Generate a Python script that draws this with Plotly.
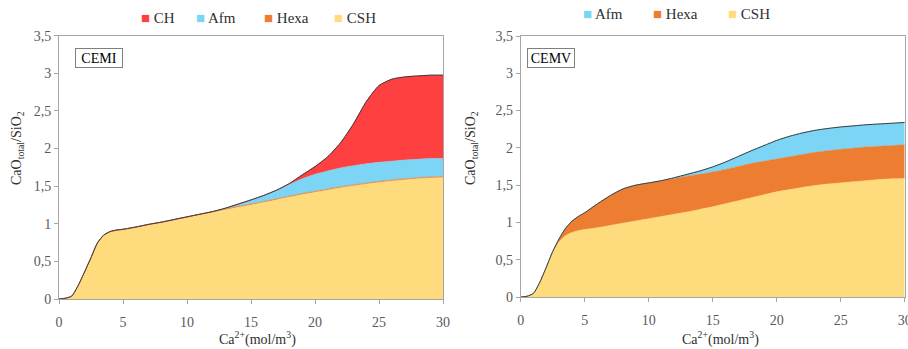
import plotly.graph_objects as go

# ---------------- data ----------------
x = [0, 0.5, 1, 1.5, 2, 2.5, 3, 3.5, 4, 4.5, 5, 6, 7, 8, 9, 10, 11, 12, 13, 14, 15,
     16, 17, 18, 19, 20, 21, 22, 23, 24, 25, 26, 27, 28, 29, 30]

# CEMI
csh_cemi = [0, 0.01, 0.04, 0.18, 0.36, 0.55, 0.74, 0.84, 0.885, 0.905, 0.915, 0.945, 0.98,
            1.01, 1.045, 1.08, 1.115, 1.15, 1.185, 1.22, 1.25, 1.285, 1.32, 1.355, 1.39,
            1.42, 1.45, 1.48, 1.505, 1.53, 1.55, 1.57, 1.585, 1.60, 1.61, 1.615]
hexa_cemi = [0, 0, 0, 0, 0, 0, 0.005, 0.01] + [0.012] * 28
afm_cemi = [0] * 18 + [0.01, 0.03, 0.055, 0.08, 0.115, 0.155, 0.195, 0.225, 0.24, 0.25,
                       0.255, 0.255, 0.255, 0.25, 0.25, 0.245, 0.245, 0.24]
ch_cemi = [0] * 23 + [0.013, 0.053, 0.103, 0.19, 0.335, 0.555, 0.825, 1.02, 1.09, 1.105,
                      1.108, 1.108, 1.108, 1.11]

# CEMV
csh_cemv = [0, 0.01, 0.05, 0.2, 0.4, 0.6, 0.74, 0.82, 0.865, 0.89, 0.905, 0.93, 0.96, 0.99,
            1.02, 1.05, 1.08, 1.11, 1.14, 1.175, 1.21, 1.25, 1.29, 1.33, 1.37, 1.41, 1.44,
            1.47, 1.495, 1.515, 1.53, 1.545, 1.56, 1.575, 1.585, 1.59]
hexa_cemv = [0, 0, 0, 0, 0, 0.01, 0.04, 0.1, 0.15, 0.19, 0.225, 0.32, 0.40, 0.46, 0.48,
             0.48, 0.48, 0.48, 0.48, 0.47, 0.465, 0.46, 0.46, 0.46, 0.45, 0.44, 0.44, 0.44,
             0.445, 0.445, 0.45, 0.45, 0.45, 0.445, 0.445, 0.45]
afm_cemv = [0] * 17 + [0.01, 0.025, 0.045, 0.07, 0.10, 0.135, 0.17, 0.21, 0.25, 0.275, 0.29,
                       0.295, 0.30, 0.30, 0.30, 0.30, 0.30, 0.30, 0.30]

x_ticks = [0, 5, 10, 15, 20, 25, 30]
panel_labels = ["CEMI", "CEMV"]
legend_left = ["CH", "Afm", "Hexa", "CSH"]
legend_right = ["Afm", "Hexa", "CSH"]
colors = {"CSH": "#FEDC7E", "Hexa": "#ED7D31", "Afm": "#7DD5F5", "CH": "#FF4040"}

FONT = "Liberation Serif"
TICKC = "#595959"
TXTC = "#303030"

fig = go.Figure()

def add_stack(series, xa, ya, grp):
    for name, vals in series:
        fig.add_trace(go.Scatter(
            x=x, y=vals, name=name, stackgroup=grp, mode="lines",
            line=dict(width=0.6, color=colors[name], shape="spline", smoothing=0.6),
            fillcolor=colors[name], xaxis=xa, yaxis=ya, showlegend=False,
            hoverinfo="skip"))
    total = [sum(v) for v in zip(*[s[1] for s in series])]
    fig.add_trace(go.Scatter(
        x=x, y=total, mode="lines", xaxis=xa, yaxis=ya, showlegend=False,
        line=dict(width=1, color="#3a3a3a", shape="spline", smoothing=0.6),
        hoverinfo="skip"))

add_stack([("CSH", csh_cemi), ("Hexa", hexa_cemi), ("Afm", afm_cemi), ("CH", ch_cemi)],
          "x", "y", "a")
add_stack([("CSH", csh_cemv), ("Hexa", hexa_cemv), ("Afm", afm_cemv)], "x2", "y2", "b")

W, H = 908, 349

def px_x(p):
    return p / W

def px_y(p):
    return (H - p) / H

axis_common = dict(
    showline=True, linecolor="#A6A6A6", linewidth=1, mirror=True, automargin=False,
    ticks="outside", ticklen=4, tickcolor="#A6A6A6", showgrid=False, zeroline=False,
    ticklabeloverflow="allow",
    tickfont=dict(family=FONT, size=14, color=TICKC),
)

fig.update_layout(
    width=W, height=H,
    margin=dict(l=0, r=0, t=0, b=0, autoexpand=False),
    paper_bgcolor="white", plot_bgcolor="white",
    separators=", ",
    showlegend=False,
    xaxis=dict(domain=[px_x(59), px_x(443)], range=[0, 30], tickvals=x_ticks,
               ticklabelstandoff=6, anchor="y", **axis_common),
    yaxis=dict(domain=[px_y(299), px_y(35.7)], range=[0, 3.5], dtick=0.5,
               anchor="x", **axis_common),
    xaxis2=dict(domain=[px_x(520.7), px_x(904.7)], range=[0, 30], tickvals=x_ticks,
                ticklabelstandoff=6, anchor="y2", **axis_common),
    yaxis2=dict(domain=[px_y(297), px_y(36)], range=[0, 3.5], dtick=0.5,
                anchor="x2", **axis_common),
)

ann = []
# panel labels
for lbl, lx in zip(panel_labels, [75, 527]):
    ann.append(dict(xref="paper", yref="paper", x=px_x(lx), y=px_y(48),
                    xanchor="left", yanchor="top", text=lbl, showarrow=False,
                    font=dict(family=FONT, size=14, color="#000000"),
                    bordercolor="#7f7f7f", borderwidth=1, borderpad=1,
                    width=44, height=16, bgcolor="white"))

# axis titles
for cx in [17, 471]:
    ann.append(dict(xref="paper", yref="paper", x=px_x(cx), y=px_y(148),
                    xanchor="center", yanchor="middle", textangle=-90,
                    text="CaO<sub>total</sub>/SiO<sub>2</sub>", showarrow=False,
                    font=dict(family=FONT, size=14, color=TXTC)))
for cx in [257, 720]:
    ann.append(dict(xref="paper", yref="paper", x=px_x(cx), y=px_y(338),
                    xanchor="center", yanchor="middle",
                    text="Ca<sup>2+</sup>(mol/m<sup>3</sup>)", showarrow=False,
                    font=dict(family=FONT, size=14, color=TXTC)))

# legends
for names, xs, cy in [(legend_left, [139, 194, 262, 332], 18),
                      (legend_right, [581, 651, 726], 14)]:
    for nm, lx in zip(names, xs):
        ann.append(dict(xref="paper", yref="paper", x=px_x(lx), y=px_y(cy),
                        xanchor="left", yanchor="middle", showarrow=False,
                        text=f"<span style='color:{colors[nm]}'>■</span> {nm}",
                        font=dict(family=FONT, size=15, color=TXTC)))

fig.update_layout(annotations=ann)
fig.write_html("out.html", config={"displayModeBar": False},
               post_script="document.body.style.margin='0';document.body.style.overflow='hidden';")
